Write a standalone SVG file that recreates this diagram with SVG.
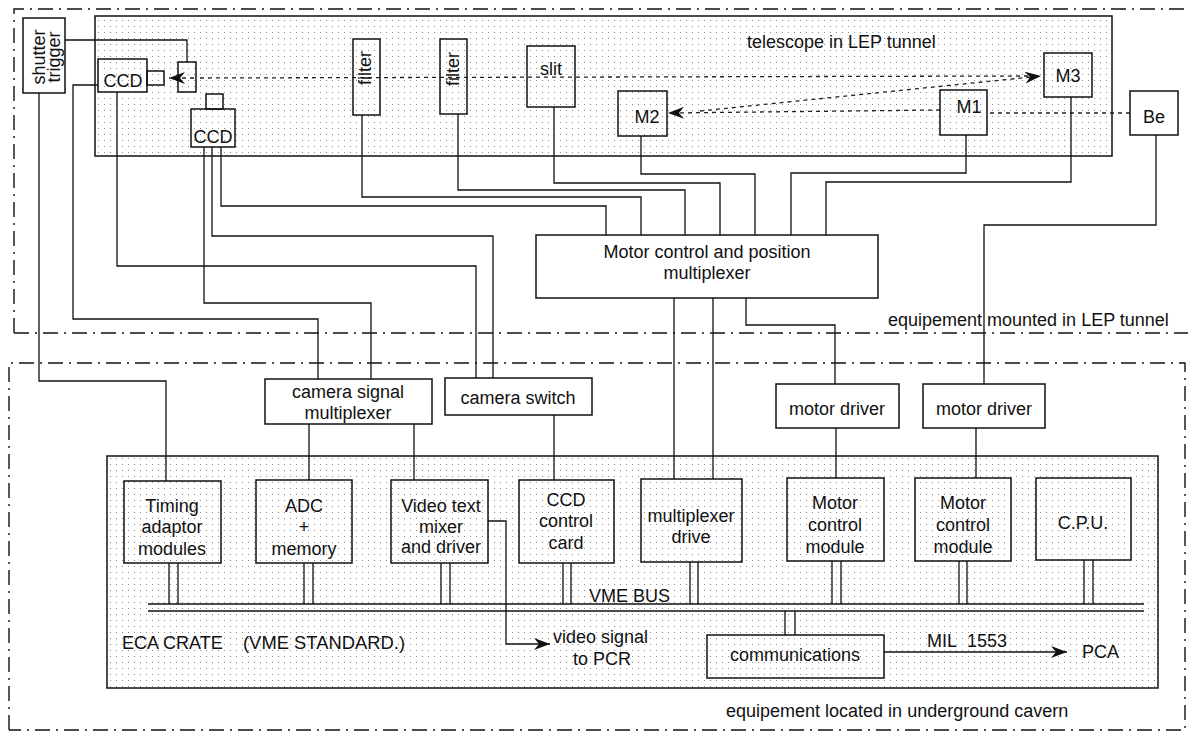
<svg xmlns="http://www.w3.org/2000/svg" width="1188" height="731" viewBox="0 0 1188 731">
<style>
text{font-family:"Liberation Sans",Arial,sans-serif;font-size:18px;fill:#111}
.c{text-anchor:middle}
.box{fill:none;stroke:#111;stroke-width:1.5}
.area{fill:url(#dots);stroke:#111;stroke-width:1.5}
.w{fill:none;stroke:#111;stroke-width:1.3}
.dt{fill:none;stroke:#222;stroke-width:1.3;stroke-dasharray:4 4}
.reg{fill:none;stroke:#111;stroke-width:1.4;stroke-dasharray:15 6 2 6}
</style>
<defs>
<pattern id="dots" patternUnits="userSpaceOnUse" x="0" y="0" width="6" height="6">
<rect x="2" y="2" width="1" height="1" fill="#888"/>
</pattern>
<marker id="arr" viewBox="0 0 16 12" refX="16" refY="6" markerWidth="16" markerHeight="12" markerUnits="userSpaceOnUse" orient="auto">
<path d="M0,0 L16,6 L0,12 L5,6 z" fill="#111"/>
</marker>
</defs>
<rect width="1188" height="731" fill="#fff"/>

<g id="regions">
<path class="reg" d="M14,333 L14,9 L1188,9"/>
<path class="reg" d="M14,333 L1188,333"/>
<path class="reg" d="M9,730 L9,363 L1185,363 L1185,730 L9,730"/>
<text x="888" y="326">equipement mounted in LEP tunnel</text>
<text x="726" y="717">equipement located in underground cavern</text>
</g>

<g id="telescope">
<rect class="area" x="95" y="16" width="1017" height="140"/>
<text x="747" y="48">telescope in LEP tunnel</text>
</g>

<g id="crate">
<rect class="area" x="107" y="456" width="1051" height="232"/>
<text x="122" y="649">ECA CRATE</text>
<text x="243" y="649" textLength="162" lengthAdjust="spacingAndGlyphs">(VME STANDARD.)</text>
<line class="w" x1="148" y1="604" x2="1144" y2="604"/>
<line class="w" x1="148" y1="611" x2="1144" y2="611"/>
<text x="589" y="602">VME BUS</text>
</g>

<g id="connectors">
<path class="dt" d="M1130,113 L988,113"/>
<path class="dt" d="M940,110 L668,113" marker-end="url(#arr)"/>
<path class="dt" d="M700,111 L1041,76" marker-end="url(#arr)"/>
<path class="dt" d="M1028,76 L198,78"/>
<path class="dt" d="M194,78 L169,78" marker-end="url(#arr)"/>
<path class="w" d="M65,40 L187,40 L187,62"/>
<path class="w" d="M39,93 L39,381 L166,381 L166,481"/>
<path class="w" d="M98,85 L73,85 L73,319 L318,319 L318,379"/>
<path class="w" d="M117,92 L117,266 L476,266 L476,378"/>
<path class="w" d="M204,147 L204,303 L371,303 L371,379"/>
<path class="w" d="M212,147 L212,236 L493,236 L493,378"/>
<path class="w" d="M221,147 L221,206 L606,206 L606,235"/>
<path class="w" d="M362,115 L362,197 L641,197 L641,235"/>
<path class="w" d="M458,114 L458,190 L685,190 L685,235"/>
<path class="w" d="M554,107 L554,183 L720,183 L720,235"/>
<path class="w" d="M641,136 L641,174 L755,174 L755,235"/>
<path class="w" d="M966,135 L966,173 L791,173 L791,235"/>
<path class="w" d="M1071,97 L1071,182 L826,182 L826,235"/>
<path class="w" d="M1156,135 L1156,225 L984,225 L984,384"/>
<path class="w" d="M674,298 L674,479"/>
<path class="w" d="M713,298 L713,479"/>
<path class="w" d="M746,298 L746,325 L835,325 L835,384"/>
<path class="w" d="M309,424 L309,480"/>
<path class="w" d="M414,424 L414,480"/>
<path class="w" d="M554,415 L554,480"/>
<path class="w" d="M836,428 L836,478"/>
<path class="w" d="M976,428 L976,478"/>
<path class="w" d="M169,563 V604 M178,563 V604"/>
<path class="w" d="M304,563 V604 M313,563 V604"/>
<path class="w" d="M441,563 V604 M450,563 V604"/>
<path class="w" d="M563,563 V604 M571,563 V604"/>
<path class="w" d="M690,562 V604 M698,562 V604"/>
<path class="w" d="M832,561 V604 M841,561 V604"/>
<path class="w" d="M959,561 V604 M967,561 V604"/>
<path class="w" d="M1084,560 V604 M1093,560 V604"/>
<path class="w" d="M785,611 V635 M795,611 V635"/>
<path class="w" d="M488,521 L506,521 L506,644 L550,644" marker-end="url(#arr)"/>
<path class="w" d="M884,652 L1067,652" marker-end="url(#arr)"/>
</g>

<g id="shutter-trigger">
<rect class="box" x="23" y="18" width="42" height="75"/>
<text class="c" transform="translate(45,57) rotate(-90)">shutter</text>
<text class="c" transform="translate(60,57) rotate(-90)">trigger</text>
</g>
<g id="ccd1">
<rect class="box" x="98" y="59" width="49" height="33"/>
<rect class="box" x="147" y="71" width="17" height="14"/>
<text class="c" x="123" y="87">CCD</text>
</g>
<g id="splitter">
<rect class="box" x="178" y="62" width="18" height="30"/>
</g>
<g id="ccd2">
<rect class="box" x="191" y="109" width="44" height="38"/>
<rect class="box" x="206" y="94" width="17" height="15"/>
<text class="c" x="213" y="143">CCD</text>
</g>
<g id="filter1">
<rect class="box" x="353" y="39" width="27" height="76"/>
<text class="c" transform="translate(371,68) rotate(-90)">filter</text>
</g>
<g id="filter2">
<rect class="box" x="440" y="39" width="27" height="75"/>
<text class="c" transform="translate(459,69) rotate(-90)">filter</text>
</g>
<g id="slit">
<rect class="box" x="527" y="46" width="48" height="61"/>
<text class="c" x="551" y="75">slit</text>
</g>
<g id="m2">
<rect class="box" x="618" y="91" width="49" height="45"/>
<text class="c" x="647" y="123">M2</text>
</g>
<g id="m1">
<rect class="box" x="940" y="90" width="47" height="45"/>
<text class="c" x="969" y="113">M1</text>
</g>
<g id="m3">
<rect class="box" x="1044" y="53" width="48" height="44"/>
<text class="c" x="1068" y="82">M3</text>
</g>
<g id="be">
<rect class="box" x="1130" y="91" width="48" height="44"/>
<text class="c" x="1154" y="123">Be</text>
</g>

<g id="motor-control-mux">
<rect class="box" x="536" y="235" width="342" height="63" fill="#fff"/>
<text class="c" x="707" y="258">Motor control and position</text>
<text class="c" x="707" y="279">multiplexer</text>
</g>
<g id="camera-signal-mux">
<rect class="box" x="265" y="379" width="167" height="45"/>
<text class="c" x="348" y="398">camera signal</text>
<text class="c" x="348" y="419">multiplexer</text>
</g>
<g id="camera-switch">
<rect class="box" x="445" y="378" width="147" height="37"/>
<text class="c" x="518" y="404">camera switch</text>
</g>
<g id="motor-driver1">
<rect class="box" x="776" y="384" width="123" height="44"/>
<text class="c" x="837" y="415">motor driver</text>
</g>
<g id="motor-driver2">
<rect class="box" x="923" y="384" width="122" height="44"/>
<text class="c" x="984" y="415">motor driver</text>
</g>

<g id="timing">
<rect class="box" x="124" y="481" width="97" height="82"/>
<text class="c" x="172" y="512">Timing</text>
<text class="c" x="172" y="533">adaptor</text>
<text class="c" x="172" y="555">modules</text>
</g>
<g id="adc">
<rect class="box" x="256" y="480" width="96" height="83"/>
<text class="c" x="304" y="512">ADC</text>
<text class="c" x="304" y="533">+</text>
<text class="c" x="304" y="555">memory</text>
</g>
<g id="video-mixer">
<rect class="box" x="391" y="480" width="97" height="83"/>
<text class="c" x="441" y="512">Video text</text>
<text class="c" x="441" y="533">mixer</text>
<text class="c" x="441" y="553">and driver</text>
</g>
<g id="ccd-control">
<rect class="box" x="519" y="480" width="95" height="83"/>
<text class="c" x="566" y="506">CCD</text>
<text class="c" x="566" y="527">control</text>
<text class="c" x="566" y="549">card</text>
</g>
<g id="mux-drive">
<rect class="box" x="641" y="479" width="101" height="83"/>
<text class="c" x="691" y="522">multiplexer</text>
<text class="c" x="691" y="543">drive</text>
</g>
<g id="mcm1">
<rect class="box" x="787" y="478" width="97" height="83"/>
<text class="c" x="835" y="509">Motor</text>
<text class="c" x="835" y="531">control</text>
<text class="c" x="835" y="553">module</text>
</g>
<g id="mcm2">
<rect class="box" x="915" y="478" width="96" height="83"/>
<text class="c" x="963" y="509">Motor</text>
<text class="c" x="963" y="531">control</text>
<text class="c" x="963" y="553">module</text>
</g>
<g id="cpu">
<rect class="box" x="1036" y="478" width="95" height="82"/>
<text class="c" x="1083" y="529">C.P.U.</text>
</g>
<g id="communications">
<rect class="box" x="707" y="635" width="177" height="43"/>
<text class="c" x="795" y="661">communications</text>
</g>
<g id="labels">
<text x="927" y="647">MIL&#160; 1553</text>
<text x="1082" y="658">PCA</text>
<text x="553" y="643">video signal</text>
<text class="c" x="602" y="665">to PCR</text>
</g>
</svg>
